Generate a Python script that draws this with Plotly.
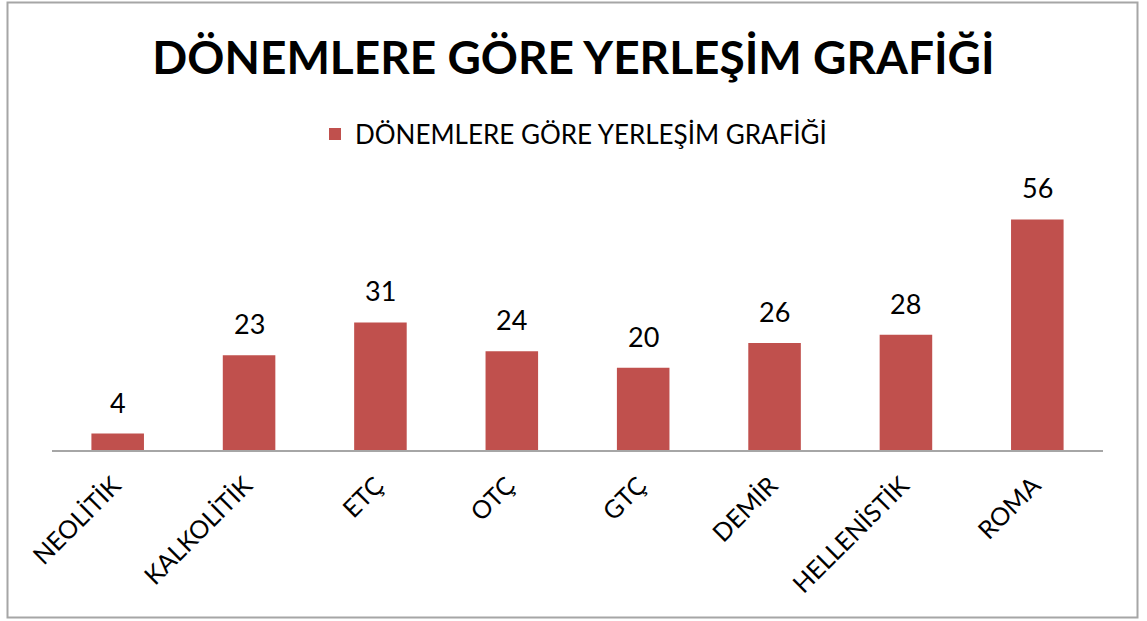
import plotly.graph_objects as go

categories = ["NEOLİTİK", "KALKOLİTİK", "ETÇ", "OTÇ", "GTÇ", "DEMİR", "HELLENİSTİK", "ROMA"]
values = [4, 23, 31, 24, 20, 26, 28, 56]
series_name = "DÖNEMLERE GÖRE YERLEŞİM GRAFİĞİ"
title_text = "DÖNEMLERE GÖRE YERLEŞİM GRAFİĞİ"

FONT = "Lato"
W, H = 1147, 621
L, R, T, B = 52, 44, 203, 171
pw, ph = W - L - R, H - T - B

def px_x(x):
    return (x - L) / pw

def px_y(y):
    return (H - B - y) / ph

fig = go.Figure()
fig.add_trace(go.Bar(
    x=categories, y=values, name=series_name,
    marker=dict(color="#C0504D", line=dict(width=0)),
))

for c, v in zip(categories, values):
    fig.add_annotation(x=c, y=v, text=str(v), showarrow=False,
                       xanchor="center", yanchor="bottom", yshift=13,
                       font=dict(family=FONT, size=27, color="#000000"))

fig.update_layout(
    width=W, height=H,
    margin=dict(l=L, r=R, t=T, b=B),
    paper_bgcolor="white", plot_bgcolor="white",
    bargap=0.6,
    showlegend=True,
    title=dict(text="<b>" + title_text + "</b>", x=0.5, xanchor="center",
               y=1 - 58 / H, yanchor="middle",
               font=dict(family=FONT, size=46, color="#000000")),
    legend=dict(orientation="h", x=0.5 - 4 / pw, xanchor="center", xref="paper",
                y=1 - 134 / H, yanchor="middle", yref="container",
                font=dict(family=FONT, size=26, color="#000000"),
                itemwidth=30),
    xaxis=dict(showgrid=False, showline=True, linecolor="#A6A6A6", linewidth=2,
               ticks="", tickangle=-45, ticklabelstandoff=9, ticklabelshift=-4,
               tickfont=dict(family=FONT, size=25, color="#000000")),
    yaxis=dict(range=[0, 60], visible=False, showgrid=False, zeroline=False),
    shapes=[dict(type="rect", xref="paper", yref="paper",
                 x0=px_x(7.5), x1=px_x(1137.5), y0=px_y(617.5), y1=px_y(2.5),
                 line=dict(color="#A6A6A6", width=2), fillcolor="rgba(0,0,0,0)")],
)

fig.write_html("out.html", config={"displayModeBar": False},
               post_script="document.body.style.margin='0';document.body.style.padding='0';")
